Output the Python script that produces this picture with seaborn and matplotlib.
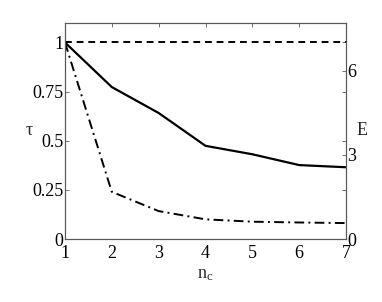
import numpy as np
import matplotlib
matplotlib.use('Agg')
import matplotlib.pyplot as plt
import seaborn as sns

# data
n_c = [1, 2, 3, 4, 5, 6, 7]
tau_solid = [1.0, 0.773, 0.641, 0.474, 0.431, 0.376, 0.365]
tau_dashdot = [1.0, 0.240, 0.142, 0.100, 0.088, 0.084, 0.081]
E_dashed = [7, 7, 7, 7, 7, 7, 7]
tau_ticks = [0, 0.25, 0.5, 0.75, 1]
tau_labels = ['0', '0.25', '0.5', '0.75', '1']
E_ticks = [0, 3, 6]

sns.set_style('white')
plt.rcParams['font.family'] = ['Liberation Serif', 'DejaVu Serif']
plt.rcParams['mathtext.fontset'] = 'stix'

fig = plt.figure(figsize=(3.82, 3.02), dpi=100)
ax = fig.add_axes([0.170, 0.2086, 0.736, 0.716])
ax2 = ax.twinx()

sns.lineplot(x=n_c, y=tau_solid, ax=ax, color='k', lw=1.6)
sns.lineplot(x=n_c, y=tau_dashdot, ax=ax, color='k', lw=1.4)
ax.lines[-1].set_dashes((5, 2.2, 1, 2.2))
sns.lineplot(x=n_c, y=E_dashed, ax=ax2, color='k', lw=1.4)
ax2.lines[-1].set_dashes((3.5, 2.5))

ax.set_xlim(1, 7)
ax.set_ylim(0, 1.1)
ax2.set_ylim(0, 7.7)
ax.set_xticks(n_c)
ax.set_yticks(tau_ticks)
ax.set_yticklabels(tau_labels)
ax2.set_yticks(E_ticks)

for a in (ax, ax2):
    for s in a.spines.values():
        s.set_color('0.35')
        s.set_linewidth(0.8)
ax.tick_params(direction='in', length=3, width=0.6, color='0.35', labelsize=13,
               top=True, right=True, pad=1, labelcolor='k')
ax.tick_params(axis='x', pad=4)
ax2.tick_params(direction='in', length=3, width=0.6, color='0.35', labelsize=13,
                pad=1, labelcolor='k')

ax.set_xlabel(r'n$_\mathregular{c}$', fontsize=13, labelpad=3)
ax.set_ylabel('τ', fontsize=13, rotation=0, labelpad=2, va='center')
ax2.set_ylabel('E', fontsize=13, rotation=0, labelpad=4, va='center')

fig.savefig('out.png', dpi=100)
